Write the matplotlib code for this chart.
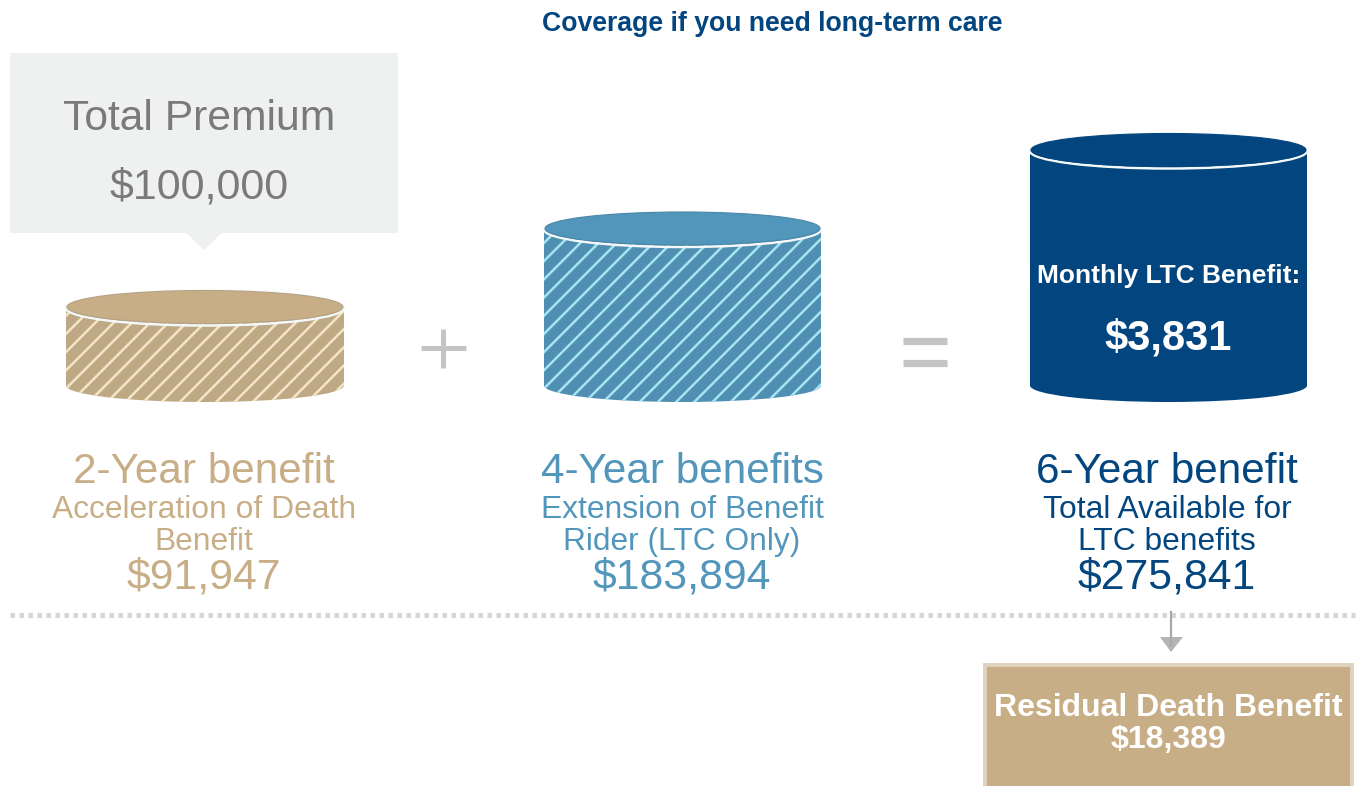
import matplotlib
matplotlib.use('Agg')
import numpy as np
import matplotlib.pyplot as plt
from matplotlib.patches import Ellipse, Rectangle, Polygon
from matplotlib.path import Path

plt.rcParams['font.family'] = ['Liberation Sans', 'DejaVu Sans']

# benefit data
benefit_values = [91947, 183894, 275841]
benefit_titles = ['2-Year benefit', '4-Year benefits', '6-Year benefit']
benefit_subs = [['Acceleration of Death', 'Benefit'],
                ['Extension of Benefit', 'Rider (LTC Only)'],
                ['Total Available for', 'LTC benefits']]
benefit_amounts = ['$91,947', '$183,894', '$275,841']
premium_label = 'Total Premium'
premium_amount = '$100,000'
monthly_label = 'Monthly LTC Benefit:'
monthly_amount = '$3,831'
residual_label = 'Residual Death Benefit'
residual_amount = '$18,389'
title = 'Coverage if you need long-term care'

tan = '#c8ae86'
blue = '#5296bb'
navy = '#03467f'
grey = '#c4c4c4'

fig = plt.figure(figsize=(13.61, 7.86), dpi=100)
ax = fig.add_axes([0, 0, 1, 1])
ax.set_xlim(0, 1361)
ax.set_ylim(786, 0)
ax.axis('off')


def cylinder(x0, x1, value, color, edge, hatched):
    # height of the can follows the benefit value
    base = 385.5
    ry = 16.5
    top = base - value * 78.5 / 91947
    cx = (x0 + x1) / 2
    w = x1 - x0
    body_col = '#bfa884' if color == tan else '#4e8fb2' if color == blue else color
    body = Polygon([[x0, top], [x1, top], [x1, base], [x0, base]], fc=body_col, ec='none', zorder=2)
    ax.add_patch(body)
    ax.add_patch(Ellipse((cx, base), w, ry * 2, fc=body_col, ec='none', zorder=2))
    if hatched:
        # clip the diagonal stripes to the can outline
        t = np.linspace(0, np.pi, 60)
        low = np.column_stack([cx + w / 2 * np.cos(t), base + ry * np.sin(t)])
        outline = np.vstack([[[x0, top], [x1, top]], low, [[x0, top]]])
        clip = Path(outline)
        stripe = '#a9e2f2' if color == blue else '#f3e5c8'
        for s in np.arange(x0 - 300, x1 + 100, 18.2):
            line, = ax.plot([s, s + 400], [base + 30, base + 30 - 400], color=stripe,
                            lw=1.8, zorder=3, solid_capstyle='butt')
            line.set_clip_path(clip, ax.transData)
    ax.add_patch(Ellipse((cx, top + 1), w, ry * 2 + 2, fc='none', ec='#f4f8f8', lw=1.8, zorder=4))
    ax.add_patch(Ellipse((cx, top), w - 2, ry * 2, fc=color, ec=edge, lw=0.8, zorder=5))


ax.text(772, 24, title, color='#03467f', fontsize=19.15, fontweight='bold', ha='center', va='center')

# premium callout
ax.add_patch(Rectangle((10, 53), 388, 180, fc='#eff1f1', ec='none'))
ax.add_patch(Polygon([[186, 233], [222, 233], [204, 250]], fc='#eff1f1', ec='none'))
ax.text(199.5, 119, premium_label, color='#7a7a7a', fontsize=30.7, ha='center', va='center')
ax.text(199.5, 188, premium_amount, color='#7a7a7a', fontsize=31, ha='center', va='center')

cylinder(66, 344, benefit_values[0], tan, '#b5a285', True)
cylinder(544, 821, benefit_values[1], blue, '#4a87a8', True)
cylinder(1030, 1307, benefit_values[2], navy, navy, False)

# operators
ax.plot([421, 466], [348, 348], color=grey, lw=3.6, solid_capstyle='butt')
ax.plot([443.5, 443.5], [329, 368], color=grey, lw=3.6, solid_capstyle='butt')
ax.plot([903, 947], [341, 341], color=grey, lw=5.2, solid_capstyle='butt')
ax.plot([903, 947], [363, 363], color=grey, lw=5.2, solid_capstyle='butt')

ax.text(1169, 276, monthly_label, color='white', fontsize=19, fontweight='bold', ha='center', va='center', zorder=6)
ax.text(1168, 338, monthly_amount, color='white', fontsize=30, fontweight='bold', ha='center', va='center', zorder=6)

# text columns
text_cols = [tan, blue, navy]
text_x = [204, 682, 1167]
for i in range(3):
    ax.text(text_x[i], 472, benefit_titles[i], color=text_cols[i], fontsize=30.4, ha='center', va='center')
    ax.text(text_x[i], 510, benefit_subs[i][0], color=text_cols[i], fontsize=22.85, ha='center', va='center')
    ax.text(text_x[i], 542, benefit_subs[i][1], color=text_cols[i], fontsize=22.85, ha='center', va='center')
    ax.text(text_x[i], 578, benefit_amounts[i], color=text_cols[i], fontsize=30.8, ha='center', va='center')

# divider and arrow
ax.plot([10, 1355], [615, 615], color='#d6d6d6', lw=3.6, linestyle=(0, (0.9, 0.9)))
ax.plot([1171, 1171], [612, 645], color='#a9a9a9', lw=1.6)
ax.add_patch(Polygon([[1160, 637], [1183, 637], [1171, 652]], fc='#b4b4b4', ec='none'))

# residual box
ax.add_patch(Rectangle((985, 665), 367, 125, fc=tan, ec='#e0d3bd', lw=2.8))
ax.text(1168, 708, residual_label, color='white', fontsize=23, fontweight='bold', ha='center', va='center')
ax.text(1168, 740, residual_amount, color='white', fontsize=23, fontweight='bold', ha='center', va='center')

fig.savefig('out.png', dpi=100)
